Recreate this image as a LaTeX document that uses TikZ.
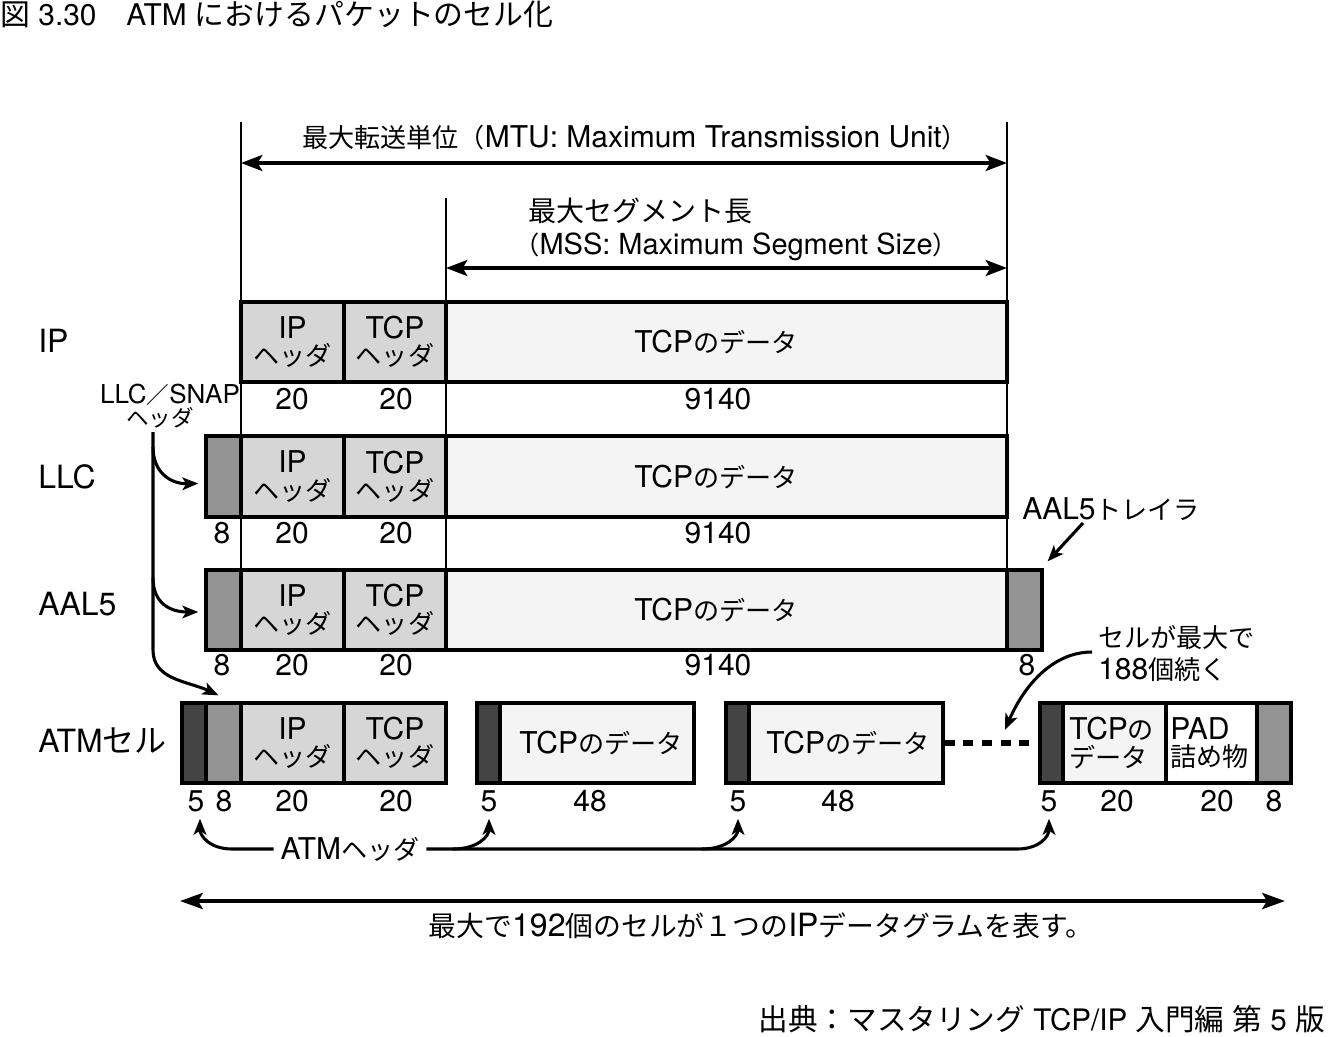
\documentclass[tikz,border=0pt]{standalone}
\usepackage{fontspec}
\setmainfont{TeX Gyre Heros}
\newfontfamily\jp[Scale=0.87]{Noto Sans CJK JP}
\newfontfamily\jpn{Noto Sans CJK JP}
\usetikzlibrary{arrows.meta,fit,calc}
\definecolor{hdrfill}{HTML}{D6D6D6}
\definecolor{datafill}{HTML}{F4F4F4}
\definecolor{midfill}{HTML}{939393}
\definecolor{darkfill}{HTML}{444444}
\newcommand\cellnode[6]{\node[cellbox, fill=#6, fit={(#2,#3) (#4,#5)}] (#1) {};}
\begin{document}
\begin{tikzpicture}[x=0.75pt,y=-0.75pt,
  cellbox/.style={draw=black, line width=2.5pt, inner sep=0pt},
  guide/.style={line width=1pt},
  celltxt/.style={font=\fontsize{22.5pt}{20.5pt}\selectfont, align=center, inner sep=0pt},
  celltxtl/.style={font=\fontsize{22.5pt}{20.5pt}\selectfont, align=left, inner sep=0pt, anchor=west},
  num/.style={font=\fontsize{22.5pt}{24pt}\selectfont, anchor=base, inner sep=0pt},
  rowlbl/.style={font=\fontsize{24pt}{26pt}\selectfont, anchor=base west, inner sep=0pt},
  lbl/.style={font=\fontsize{22.5pt}{24pt}\selectfont, inner sep=0pt},
  dimarrow/.style={line width=2.4pt, {Stealth[length=16pt,width=12pt,inset=3.5pt]}-{Stealth[length=16pt,width=12pt,inset=3.5pt]}},
  bigarrow/.style={line width=3pt, {Stealth[length=17pt,width=12pt,inset=3.5pt]}-{Stealth[length=17pt,width=12pt,inset=3.5pt]}},
  curvearrow/.style={line width=2.3pt, -{Stealth[length=12pt,width=9.5pt,inset=3pt]}},
  dotline/.style={line width=3.8pt, dash pattern=on 7.5pt off 6.5pt}
]
\useasboundingbox (0,0) rectangle (1332,1036);

% title and source
\node[anchor=base west, inner sep=0pt, font=\fontsize{22.4pt}{24pt}\selectfont] (title) at (0,25)
  {{\jpn 図} 3.30{\jpn 　}ATM {\jpn におけるパケットのセル化}};
\node[anchor=base east, inner sep=0pt, font=\fontsize{22.2pt}{24pt}\selectfont] (source) at (1325,1030)
  {{\jpn 出典：マスタリング} TCP/IP {\jpn 入門編} {\jpn 第} 5 {\jpn 版}};

% guide lines
\coordinate (gA1) at (241,122); \coordinate (gA2) at (241,650);
\coordinate (gB1) at (446,198); \coordinate (gB2) at (446,650);
\coordinate (gC1) at (1007,122); \coordinate (gC2) at (1007,570);
\draw[guide] (gA1) -- (gA2);
\draw[guide] (gB1) -- (gB2);
\draw[guide] (gC1) -- (gC2);

% MTU / MSS
\node[lbl, anchor=base] (mtulbl) at (635,147)
  {{\jp 最大転送単位（}MTU: Maximum Transmission Unit{\jp ）}};
\coordinate (mtuL) at (241,163); \coordinate (mtuR) at (1007,163);
\draw[dimarrow] (mtuL) -- (mtuR);
\node[lbl, anchor=base west, font=\fontsize{21pt}{24pt}\selectfont] (msslbl1) at (528,221)
  {{\jpn 最大セグメント長}};
\node[lbl, anchor=base west, font=\fontsize{21.75pt}{24pt}\selectfont] (msslbl2) at (514,254)
  {{\jp （}MSS: Maximum Segment Size{\jp ）}};
\coordinate (mssL) at (446,268); \coordinate (mssR) at (1007,268);
\draw[dimarrow] (mssL) -- (mssR);

% row labels
\node[rowlbl] (rIP) at (38,352) {IP};
\node[rowlbl] (rLLC) at (38,488) {LLC};
\node[rowlbl] (rAAL) at (38,615) {AAL5};
\node[rowlbl] (rATM) at (38,752) {ATM{\jpn セル}};

% IP row
\cellnode{ipIP}{241}{302}{344}{382}{hdrfill}
\cellnode{ipTCP}{344}{302}{446}{382}{hdrfill}
\cellnode{ipData}{446}{302}{1007}{382}{datafill}
\node[celltxt] at (ipIP.center) {IP\\{\jp ヘッダ}};
\node[celltxt] at (ipTCP.center) {TCP\\{\jp ヘッダ}};
\node[celltxt] at (716,342) {TCP{\jp のデータ}};
\node[num] (nI1) at (292,409) {20};
\node[num] (nI2) at (396,409) {20};
\node[num] (nI3) at (718,409) {9140};

% LLC row
\cellnode{llcH}{206}{436}{241}{517}{midfill}
\cellnode{llcIP}{241}{436}{344}{517}{hdrfill}
\cellnode{llcTCP}{344}{436}{446}{517}{hdrfill}
\cellnode{llcData}{446}{436}{1007}{517}{datafill}
\node[celltxt] at (llcIP.center) {IP\\{\jp ヘッダ}};
\node[celltxt] at (llcTCP.center) {TCP\\{\jp ヘッダ}};
\node[celltxt] at (716,477) {TCP{\jp のデータ}};
\node[num] (nL0) at (222,543) {8};
\node[num] (nL1) at (292,543) {20};
\node[num] (nL2) at (396,543) {20};
\node[num] (nL3) at (718,543) {9140};

% AAL5 row
\cellnode{aalH}{206}{570}{241}{650}{midfill}
\cellnode{aalIP}{241}{570}{344}{650}{hdrfill}
\cellnode{aalTCP}{344}{570}{446}{650}{hdrfill}
\cellnode{aalData}{446}{570}{1007}{650}{datafill}
\cellnode{aalTr}{1007}{570}{1042}{650}{midfill}
\node[celltxt] at (aalIP.center) {IP\\{\jp ヘッダ}};
\node[celltxt] at (aalTCP.center) {TCP\\{\jp ヘッダ}};
\node[celltxt] at (716,610) {TCP{\jp のデータ}};
\node[num] (nA0) at (222,675) {8};
\node[num] (nA1) at (292,675) {20};
\node[num] (nA2) at (396,675) {20};
\node[num] (nA3) at (718,675) {9140};
\node[num] (nA4) at (1027,675) {8};

% ATM cells
\cellnode{c1a}{182}{703}{206}{783}{darkfill}
\cellnode{c1b}{206}{703}{241}{783}{midfill}
\cellnode{c1c}{241}{703}{344}{783}{hdrfill}
\cellnode{c1d}{344}{703}{446}{783}{hdrfill}
\node[celltxt] at (c1c.center) {IP\\{\jp ヘッダ}};
\node[celltxt] at (c1d.center) {TCP\\{\jp ヘッダ}};
\cellnode{c2a}{477}{703}{500}{783}{darkfill}
\cellnode{c2b}{500}{703}{694}{783}{datafill}
\node[celltxt] at (601,743) {TCP{\jp のデータ}};
\cellnode{c3a}{726}{703}{749}{783}{darkfill}
\cellnode{c3b}{749}{703}{943}{783}{datafill}
\node[celltxt] at (848,743) {TCP{\jp のデータ}};
\cellnode{c4a}{1040}{703}{1063}{783}{darkfill}
\cellnode{c4b}{1063}{703}{1166}{783}{datafill}
\cellnode{c4c}{1166}{703}{1257}{783}{white}
\cellnode{c4d}{1257}{703}{1291}{783}{midfill}
\node[celltxtl] at (1069,743) {TCP{\jp の}\\{\jp データ}};
\node[celltxtl] at (1170,743) {PAD\\{\jp 詰め物}};
\draw[dotline] (c3b.east) -- (c4a.west);

\node[num] (n5a) at (196,811) {5};
\node[num] (n8a) at (224,811) {8};
\node[num] (n20a) at (292,811) {20};
\node[num] (n20b) at (396,811) {20};
\node[num] (n5b) at (489,811) {5};
\node[num] (n48a) at (590,811) {48};
\node[num] (n5c) at (738,811) {5};
\node[num] (n48b) at (838,811) {48};
\node[num] (n5d) at (1049,811) {5};
\node[num] (n20c) at (1117,811) {20};
\node[num] (n20d) at (1217,811) {20};
\node[num] (n8b) at (1274,811) {8};

% LLC/SNAP header label and arrows
\node[lbl, anchor=base, font=\fontsize{19.5pt}{20pt}\selectfont] (snap1) at (170,403) {LLC{\jp ／}SNAP};
\node[lbl, anchor=base, font=\fontsize{19.5pt}{20pt}\selectfont] (snap2) at (160,426) {{\jp ヘッダ}};
\coordinate (trTop) at (153,432);
\coordinate (trB1) at (153,447);
\coordinate (trB2) at (153,578);
\coordinate (trEnd) at (153,650);
\draw[curvearrow] (trTop) -- (trEnd) .. controls (153,680) and (188,681) .. ($(c1b.north)+(-5,-6)$);
\draw[curvearrow] (trB1) .. controls (153,472) and (170,484) .. ($(llcH.west)+(-6,7)$);
\draw[curvearrow] (trB2) .. controls (153,603) and (170,612) .. ($(aalH.west)+(-6,2)$);

% AAL5 trailer label
\node[lbl, anchor=base west] (aaltxt) at (1022,519) {AAL5{\jp トレイラ}};
\coordinate (aalStart) at (1083,523);
\draw[curvearrow] (aalStart) -- ($(aalTr.north east)+(4,-7)$);

% cells continue label
\node[lbl, anchor=base west] (cont1) at (1098,647) {{\jp セルが最大で}};
\node[lbl, anchor=base west] (cont2) at (1098,679) {188{\jp 個続く}};
\coordinate (contStart) at (1092,652);
\coordinate (contEnd) at (1005,730);
\draw[curvearrow] (contStart) .. controls (1050,652) and (1022,690) .. (contEnd);

% ATM header label and arrows
\node[lbl, inner sep=5pt] (atmh) at (350,849) {ATM{\jp ヘッダ}};
\draw[curvearrow] (atmh.west) -- (232,849) .. controls (210,849) and (200,836) .. ($(n5a.south)+(4,7)$);
\draw[curvearrow] (atmh.east) -- (1017,849) .. controls (1040,849) and (1049,836) .. ($(n5d.south)+(0,7)$);
\coordinate (brB) at (453,849);
\coordinate (brC) at (702,849);
\draw[curvearrow] (brB) .. controls (478,849) and (489,836) .. ($(n5b.south)+(0,7)$);
\draw[curvearrow] (brC) .. controls (727,849) and (738,836) .. ($(n5c.south)+(0,7)$);

% bottom arrow
\coordinate (botL) at (180,901); \coordinate (botR) at (1285,901);
\draw[bigarrow] (botL) -- (botR);
\node[lbl, anchor=base, font=\fontsize{24pt}{25pt}\selectfont] (botlbl) at (761,936)
  {{\jp 最大で}192{\jp 個のセルが１つの}IP{\jp データグラムを表す。}};
\end{tikzpicture}
\end{document}
